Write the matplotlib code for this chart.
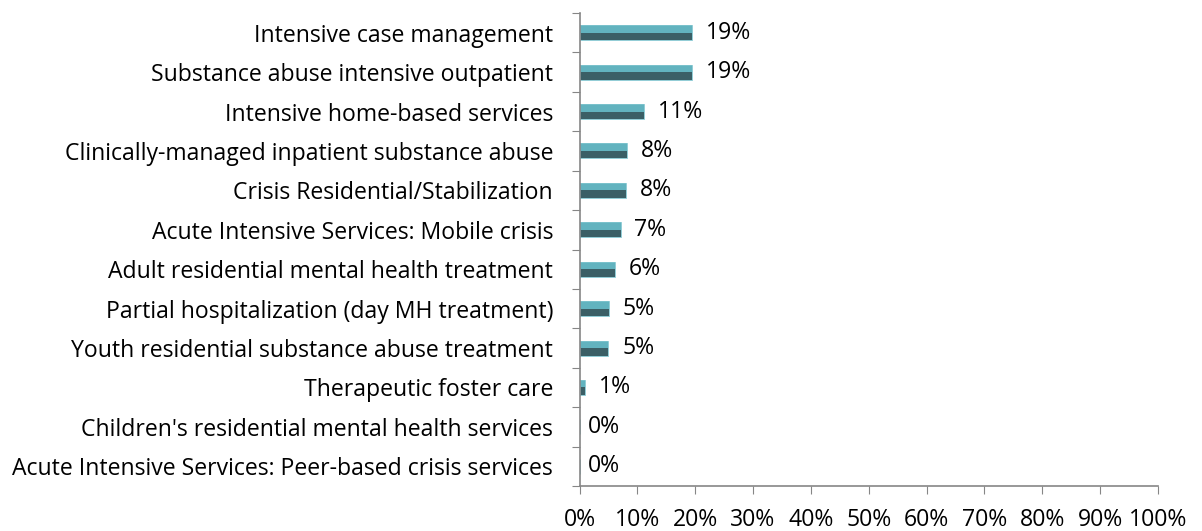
import matplotlib.pyplot as plt
import numpy as np

# categories top to bottom
services = ["Intensive case management",
            "Substance abuse intensive outpatient",
            "Intensive home-based services",
            "Clinically-managed inpatient substance abuse",
            "Crisis Residential/Stabilization",
            "Acute Intensive Services: Mobile crisis",
            "Adult residential mental health treatment",
            "Partial hospitalization (day MH treatment)",
            "Youth residential substance abuse treatment",
            "Therapeutic foster care",
            "Children's residential mental health services",
            "Acute Intensive Services: Peer-based crisis services"]
share = [19.4, 19.4, 11.1, 8.2, 8.1, 7.1, 6.1, 5.1, 5.0, 0.9, 0.0, 0.0]
xticks = [0, 10, 20, 30, 40, 50, 60, 70, 80, 90, 100]

plt.rcParams['font.family'] = ['Open Sans', 'DejaVu Sans']
fs = 16.6

fig = plt.figure(figsize=(12.02, 5.31), dpi=100)
ax = fig.add_axes([579.5/1202, 1-486/531, (1158-579.5)/1202, (486-13)/531])

n = len(services)
y = np.arange(n)[::-1]
h = 0.38
# dark lower half, light upper half (fake bevel)
ax.barh(y, share, height=h, color='#3b5f66', edgecolor='none')
ax.barh(y + h/4, share, height=h/2, color='#62b3bf', edgecolor='none')
ax.barh(y, share, height=h, color='none', edgecolor='#7fc4ce', linewidth=0.6)

for yi, v in zip(y, share):
    off = 10 if v > 0 else 6
    ax.annotate(f"{v:.0f}%", (v, yi), xytext=(off, 0), textcoords='offset points',
                va='center', ha='left', fontsize=fs, color='black')

ax.set_xlim(0, 100)
ax.set_ylim(-0.5, n - 0.5)
ax.set_xticks(xticks)
ax.set_xticklabels([f"{t}%" for t in xticks], fontsize=fs)
ax.set_yticks(np.arange(n + 1) - 0.5)
ax.set_yticklabels([])
ax.set_yticks(y, minor=True)
ax.set_yticklabels(services, minor=True, fontsize=fs)
ax.tick_params(axis='y', which='minor', length=0, pad=19)
ax.tick_params(axis='y', which='major', length=6, color='#868686')
ax.tick_params(axis='x', length=6, color='#868686', pad=10)

for s in ['top', 'right']:
    ax.spines[s].set_visible(False)
for s in ['left', 'bottom']:
    ax.spines[s].set_color('#868686')
    ax.spines[s].set_linewidth(1.2)

fig.savefig('out.png', dpi=100)
